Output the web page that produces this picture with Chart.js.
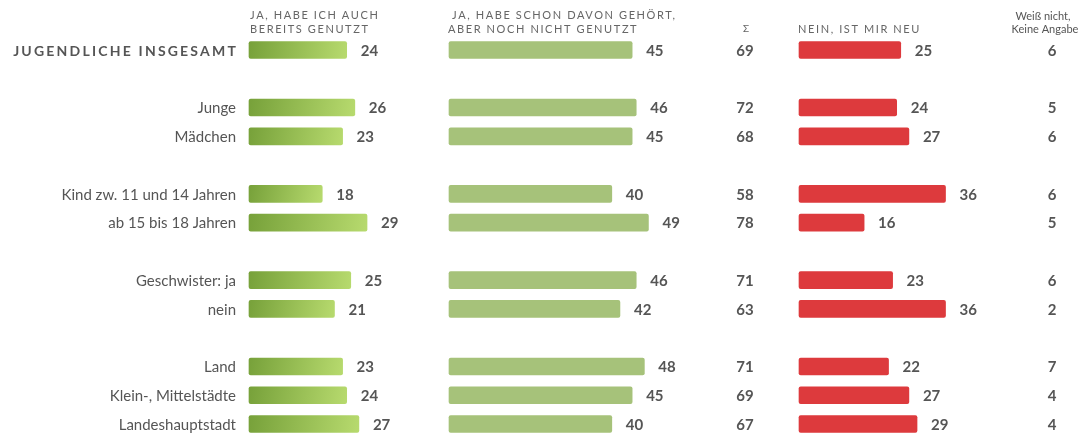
<!DOCTYPE html>
<html>
<head>
<meta charset="utf-8">
<script src="https://cdn.jsdelivr.net/npm/chart.js@4.4.1/dist/chart.umd.min.js"></script>
<style>
  html, body { margin: 0; padding: 0; background: #ffffff; }
  #wrap { position: relative; width: 1083px; height: 434px; }
</style>
</head>
<body>
<div id="wrap"><canvas id="c" width="1083" height="434"></canvas></div>
<script>
// ---------- data ----------
const categories = ['JUGENDLICHE INSGESAMT', '', 'Junge', 'Mädchen', '', 'Kind zw. 11 und 14 Jahren', 'ab 15 bis 18 Jahren', '', 'Geschwister: ja', 'nein', '', 'Land', 'Klein-, Mittelstädte', 'Landeshauptstadt'];
const usedAlready  = [24, null, 26, 23, null, 18, 29, null, 25, 21, null, 23, 24, 27];
const heardNotUsed = [45, null, 46, 45, null, 40, 49, null, 46, 42, null, 48, 45, 40];
const sumKnown     = [69, null, 72, 68, null, 58, 78, null, 71, 63, null, 71, 69, 67];
const newToMe      = [25, null, 24, 27, null, 36, 16, null, 23, 36, null, 22, 27, 29];
const dontKnow     = [6, null, 5, 6, null, 6, 5, null, 6, 2, null, 7, 4, 4];

const headerUsed  = ['JA, HABE ICH AUCH', 'BEREITS GENUTZT'];
const headerHeard = ['JA, HABE SCHON DAVON GEHÖRT,', 'ABER NOCH NICHT GENUTZT'];
const headerSum   = 'Σ';
const headerNew   = 'NEIN, IST MIR NEU';
const headerDK    = ['Weiß nicht,', 'Keine Angabe'];

// ---------- layout ----------
const W = 1083;
const PX_PER_UNIT = 4.07;
const ORIGIN_USED = 249, ORIGIN_HEARD = 449, ORIGIN_NEW = 799;
const SUM_X = 745, DK_X = 1052, LABEL_RIGHT = 236;
function axisFor(origin) {
  const min = -origin / PX_PER_UNIT;
  return { type: 'linear', display: false, min: min, max: min + W / PX_PER_UNIT };
}

const TEXT = '#555555';
const HEAD = '#666666';
const FONT = 'Lato, "Open Sans", sans-serif';

function greenGradient(ctx) {
  const chart = ctx.chart;
  const v = ctx.raw;
  if (v == null || !chart.chartArea) return '#9cc45a';
  const xs = chart.scales.xA, ys = chart.scales.y;
  const x0 = xs.getPixelForValue(0), x1 = xs.getPixelForValue(v);
  const y = ys.getPixelForValue(ctx.dataIndex);
  const g = chart.ctx.createLinearGradient(x0, y - 8, x1, y + 8);
  g.addColorStop(0, '#77a13a');
  g.addColorStop(1, '#b7da6e');
  return g;
}

const textPlugin = {
  id: 'texts',
  afterDatasetsDraw(chart) {
    const c = chart.ctx;
    const ys = chart.scales.y;
    c.save();
    c.textBaseline = 'middle';
    // bar value labels
    chart.data.datasets.forEach((ds, di) => {
      const meta = chart.getDatasetMeta(di);
      meta.data.forEach((el, i) => {
        const v = ds.data[i];
        if (v == null) return;
        c.font = 'bold 15px ' + FONT;
        c.fillStyle = TEXT;
        c.textAlign = 'left';
        c.fillText(String(v), el.x + 14, el.y + 1);
      });
    });
    // category labels
    categories.forEach((lab, i) => {
      if (!lab) return;
      const y = ys.getPixelForValue(i) + 1;
      c.textAlign = 'right';
      c.fillStyle = TEXT;
      if (i === 0) {
        c.font = 'bold 14px ' + FONT;
        c.letterSpacing = '2.2px';
        c.fillText(lab, LABEL_RIGHT + 2, y);
        c.letterSpacing = '0px';
      } else {
        c.font = '15px ' + FONT;
        c.fillText(lab, LABEL_RIGHT, y);
      }
    });
    // sum and don't-know columns
    c.font = 'bold 15px ' + FONT;
    c.textAlign = 'center';
    sumKnown.forEach((v, i) => {
      if (v == null) return;
      c.fillText(String(v), SUM_X, ys.getPixelForValue(i) + 1);
    });
    dontKnow.forEach((v, i) => {
      if (v == null) return;
      c.fillText(String(v), DK_X, ys.getPixelForValue(i) + 1);
    });
    // headers
    c.fillStyle = HEAD;
    c.font = '11px ' + FONT;
    c.letterSpacing = '1.6px';
    c.textAlign = 'left';
    c.fillText(headerUsed[0], ORIGIN_USED + 1, 15);
    c.fillText(headerUsed[1], ORIGIN_USED + 1, 29);
    c.fillText(headerHeard[0], ORIGIN_HEARD + 3, 15);
    c.fillText(headerHeard[1], ORIGIN_HEARD - 1, 29);
    c.fillText(headerNew, ORIGIN_NEW - 1, 29);
    c.letterSpacing = '0px';
    c.textAlign = 'center';
    c.font = '10px ' + FONT;
    c.fillText(headerSum, SUM_X + 1, 29);
    c.font = '11px ' + FONT;
    c.fillStyle = TEXT;
    c.fillText(headerDK[0], 1043, 16);
    c.fillText(headerDK[1], 1045, 29);
    c.restore();
  }
};

const common = { barThickness: 17, borderRadius: 2, borderSkipped: false, grouped: false, clip: false };

new Chart(document.getElementById('c'), {
  type: 'bar',
  data: {
    labels: categories,
    datasets: [
      Object.assign({ label: 'Ja, habe ich auch bereits genutzt', data: usedAlready, xAxisID: 'xA', backgroundColor: greenGradient }, common),
      Object.assign({ label: 'Ja, habe schon davon gehört, aber noch nicht genutzt', data: heardNotUsed, xAxisID: 'xB', backgroundColor: '#a6c27a' }, common),
      Object.assign({ label: 'Nein, ist mir neu', data: newToMe, xAxisID: 'xC', backgroundColor: '#dd3a3d' }, common)
    ]
  },
  options: {
    indexAxis: 'y',
    responsive: false,
    animation: false,
    layout: { padding: { top: 50, bottom: 10, left: 0, right: 0 } },
    plugins: { legend: { display: false }, tooltip: { enabled: false } },
    scales: {
      y: { type: 'category', display: false, offset: false },
      xA: axisFor(ORIGIN_USED),
      xB: axisFor(ORIGIN_HEARD),
      xC: axisFor(ORIGIN_NEW)
    }
  },
  plugins: [textPlugin]
});
</script>
</body>
</html>
